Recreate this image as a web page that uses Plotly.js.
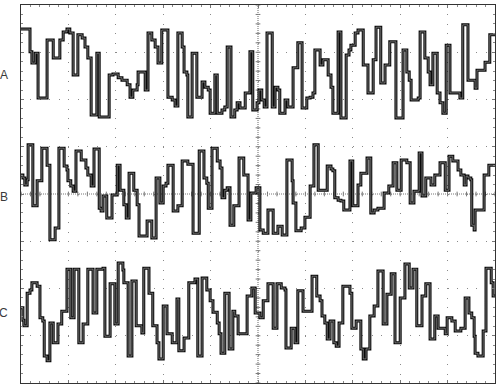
<!DOCTYPE html>
<html>
<head>
<meta charset="utf-8">
<script src="https://cdn.plot.ly/plotly-3.0.1.min.js"></script>
<style>html,body{margin:0;padding:0;background:#fff;}#chart{width:498px;height:386px;}</style>
</head>
<body>
<div id="chart"></div>
<script>
// Time in divisions (0-10), amplitude in divisions (0-8, bottom to top)
const channelNames = ["A", "B", "C"];
const channelLabelLevels = [6.52, 3.94, 1.48];

const timeA = [0.00,0.19,0.23,0.30,0.36,0.55,0.68,0.82,0.89,0.97,1.03,1.10,1.20,1.29,1.35,1.41,1.48,1.60,1.65,1.86,1.94,2.05,2.13,2.24,2.30,2.36,2.45,2.47,2.62,2.68,2.76,2.83,2.89,2.97,3.10,3.19,3.25,3.31,3.40,3.44,3.50,3.52,3.61,3.71,3.82,3.88,3.95,3.99,4.09,4.14,4.24,4.30,4.35,4.43,4.51,4.56,4.62,4.73,4.83,4.89,4.98,5.02,5.08,5.13,5.19,5.30,5.36,5.42,5.46,5.57,5.63,5.74,5.84,5.93,6.03,6.10,6.16,6.20,6.31,6.37,6.48,6.54,6.58,6.69,6.75,6.86,6.92,6.96,7.05,7.11,7.22,7.32,7.43,7.49,7.59,7.68,7.78,7.91,8.06,8.14,8.19,8.23,8.38,8.42,8.52,8.59,8.63,8.69,8.78,8.84,8.90,8.97,9.05,9.26,9.32,9.43,9.58,9.62,9.79,9.89,10.00];
const valuesA = [7.49,7.01,6.77,6.98,6.03,7.26,6.88,7.26,7.43,7.49,7.41,6.52,7.37,7.30,7.11,6.88,5.67,6.98,5.63,6.52,6.54,6.46,6.41,6.31,6.05,6.20,6.31,6.58,6.20,7.41,7.26,7.11,6.77,7.47,6.05,5.99,5.86,7.41,7.11,6.58,6.52,5.63,6.98,6.05,6.37,6.26,6.20,5.71,6.52,5.71,5.78,5.84,7.11,5.63,5.78,5.93,5.82,6.14,7.01,5.78,5.93,6.20,5.99,5.84,7.41,5.84,6.26,6.20,5.71,5.99,5.84,6.67,7.20,5.82,6.03,6.05,6.14,7.05,6.73,6.84,6.52,6.26,5.71,7.43,5.61,6.94,7.05,7.15,7.41,7.47,6.73,6.14,6.84,7.53,6.35,6.73,7.22,5.61,7.05,6.58,6.41,5.99,6.03,7.43,6.88,6.58,6.31,6.98,6.14,5.93,5.71,7.15,6.14,6.03,7.58,6.41,6.24,6.62,6.79,7.37,7.37];

const timeB = [0.00,0.04,0.08,0.13,0.15,0.25,0.34,0.44,0.55,0.61,0.72,0.80,0.91,0.97,0.99,1.05,1.10,1.16,1.27,1.37,1.41,1.48,1.54,1.65,1.69,1.73,1.81,1.92,2.03,2.09,2.17,2.22,2.28,2.38,2.45,2.49,2.66,2.76,2.85,2.93,3.00,3.06,3.10,3.21,3.31,3.40,3.52,3.63,3.76,3.86,3.92,3.95,4.03,4.14,4.20,4.24,4.30,4.35,4.41,4.49,4.60,4.70,4.79,4.85,4.96,5.04,5.11,5.21,5.32,5.42,5.51,5.61,5.72,5.74,5.80,5.91,5.99,6.10,6.18,6.27,6.46,6.54,6.58,6.62,6.69,6.75,6.81,6.94,7.00,7.11,7.17,7.30,7.38,7.45,7.53,7.66,7.76,7.85,7.93,8.02,8.14,8.21,8.29,8.40,8.46,8.54,8.65,8.73,8.84,8.95,9.03,9.11,9.22,9.28,9.35,9.39,9.43,9.49,9.51,9.56,9.58,9.77,9.87,10.00];
const valuesB = [4.40,4.34,4.19,4.30,5.04,3.75,4.28,4.97,4.61,3.03,3.28,4.97,4.59,4.51,4.28,4.17,4.06,4.91,4.72,4.55,4.40,4.17,4.95,3.70,3.64,3.96,3.49,3.98,4.61,4.08,3.77,3.49,4.44,4.08,3.77,3.11,3.43,3.07,4.34,3.81,4.17,4.23,4.61,3.64,3.75,4.70,4.63,3.17,4.91,4.34,4.23,3.70,4.97,4.70,4.55,3.92,4.08,4.13,3.34,3.75,4.76,4.40,3.45,4.02,4.13,3.24,3.17,3.66,3.17,3.32,3.13,4.72,4.28,3.81,3.22,3.28,3.51,4.17,5.04,4.08,4.59,4.53,4.49,3.92,3.87,3.85,3.66,4.70,3.75,4.19,4.44,4.76,3.60,3.66,3.70,4.02,4.17,4.66,4.08,4.72,4.66,3.81,4.06,4.87,3.96,4.34,4.19,4.40,4.66,4.08,4.80,4.70,4.51,4.40,4.19,4.38,4.34,4.30,3.34,3.24,3.66,4.40,4.61,4.61];

const timeC = [0.00,0.04,0.06,0.13,0.19,0.23,0.34,0.40,0.46,0.49,0.55,0.61,0.68,0.78,0.86,0.97,1.05,1.12,1.22,1.31,1.41,1.52,1.60,1.73,1.77,1.88,1.98,2.05,2.15,2.17,2.26,2.34,2.43,2.55,2.59,2.70,2.78,2.87,2.91,3.00,3.08,3.19,3.29,3.33,3.44,3.54,3.67,3.73,3.82,3.92,3.99,4.05,4.14,4.18,4.22,4.30,4.39,4.47,4.51,4.58,4.77,4.87,4.94,5.04,5.11,5.21,5.32,5.40,5.49,5.57,5.59,5.70,5.78,5.84,5.95,6.14,6.24,6.31,6.35,6.41,6.46,6.52,6.60,6.65,6.71,6.79,6.94,6.98,7.07,7.17,7.22,7.28,7.36,7.45,7.53,7.64,7.72,7.81,7.89,8.00,8.10,8.19,8.27,8.35,8.46,8.54,8.63,8.73,8.80,8.95,8.99,9.09,9.16,9.28,9.37,9.45,9.51,9.56,9.58,9.64,9.75,9.81,9.92,9.96,10.00];
const valuesC = [1.59,1.33,1.21,1.90,1.97,2.12,2.05,1.38,1.31,0.57,0.47,1.27,0.85,1.25,1.52,2.41,1.38,2.41,0.85,1.25,2.41,1.48,2.41,2.43,0.99,2.10,1.25,2.54,2.39,2.12,0.57,2.16,1.21,1.06,2.43,1.90,1.21,0.85,0.51,1.63,1.04,0.85,1.78,0.68,0.95,2.12,2.20,0.57,2.22,1.97,1.74,1.50,1.27,1.04,0.63,1.90,0.72,1.52,1.42,1.04,1.84,2.01,1.48,1.38,1.74,2.10,1.16,2.10,2.01,1.97,0.74,1.16,0.85,1.95,1.52,2.26,1.84,1.74,1.42,1.27,0.93,1.31,0.85,0.78,1.27,2.05,1.90,1.16,1.31,0.72,0.51,0.72,1.42,1.63,2.37,1.25,1.88,2.31,0.85,1.80,2.52,2.01,2.41,1.21,1.84,2.10,0.93,1.42,1.16,1.04,1.38,1.31,1.10,1.16,1.80,1.48,1.38,0.99,0.63,0.57,1.10,2.43,2.12,1.84,1.84];

const series = [[timeA, valuesA], [timeB, valuesB], [timeC, valuesC]];
const traces = [];
series.forEach(([t, v]) => {
  traces.push({x: t, y: v, type: 'scatter', mode: 'lines', line: {shape: 'hv', color: '#0a0a0a', width: 3}, hoverinfo: 'skip', showlegend: false});
  traces.push({x: t, y: v, type: 'scatter', mode: 'lines', line: {shape: 'hv', color: '#b0b0b0', width: 0.6}, hoverinfo: 'skip', showlegend: false});
});

const shapes = [
  {type: 'line', xref: 'x', yref: 'y', x0: 5, x1: 5, y0: 0, y1: 8, line: {color: '#666', width: 1, dash: '1px,1px'}, layer: 'below'},
  {type: 'line', xref: 'x', yref: 'y', x0: 0, x1: 10, y0: 4, y1: 4, line: {color: '#777', width: 1, dash: '1px,1px'}, layer: 'below'}
];
for (let k = 0; k <= 50; k++) {
  shapes.push({type: 'line', xref: 'x', yref: 'y', x0: k * 0.2, x1: k * 0.2, y0: 3.95, y1: 4.05, line: {color: '#777', width: 1}, layer: 'below'});
}
for (let k = 0; k <= 40; k++) {
  shapes.push({type: 'line', xref: 'x', yref: 'y', x0: 4.95, x1: 5.05, y0: k * 0.2, y1: k * 0.2, line: {color: '#777', width: 1}, layer: 'below'});
}

const annotations = channelNames.map((n, i) => ({
  text: n, xref: 'paper', yref: 'y', x: -0.036, y: channelLabelLevels[i],
  xanchor: 'center', yanchor: 'middle', showarrow: false,
  font: {family: 'Liberation Sans, Arial, sans-serif', size: 12, color: '#3a3a3a'}
}));

const axisCommon = {
  showgrid: true, gridcolor: '#8a8a8a', gridwidth: 1, zeroline: false,
  showline: true, linecolor: '#333', linewidth: 1, mirror: 'allticks',
  ticks: 'inside', ticklen: 3, tickcolor: '#777', showticklabels: false,
  fixedrange: true
};

const layout = {
  width: 498, height: 386,
  margin: {l: 21, r: 3, t: 5, b: 3, pad: 0},
  paper_bgcolor: '#fff', plot_bgcolor: '#fff',
  xaxis: Object.assign({}, axisCommon, {range: [0, 10], dtick: 1, tick0: 0, griddash: '1px,8.45px',
    minor: {dtick: 0.2, tick0: 0, ticks: 'inside', ticklen: 2, tickcolor: '#888', showgrid: false}}),
  yaxis: Object.assign({}, axisCommon, {range: [0, 8], dtick: 1, tick0: 0, griddash: '1px,8.48px',
    minor: {dtick: 0.2, tick0: 0, ticks: 'inside', ticklen: 2, tickcolor: '#888', showgrid: false}}),
  shapes: shapes,
  annotations: annotations,
  showlegend: false
};

Plotly.newPlot('chart', traces, layout, {staticPlot: true, displayModeBar: false});
</script>
</body>
</html>
